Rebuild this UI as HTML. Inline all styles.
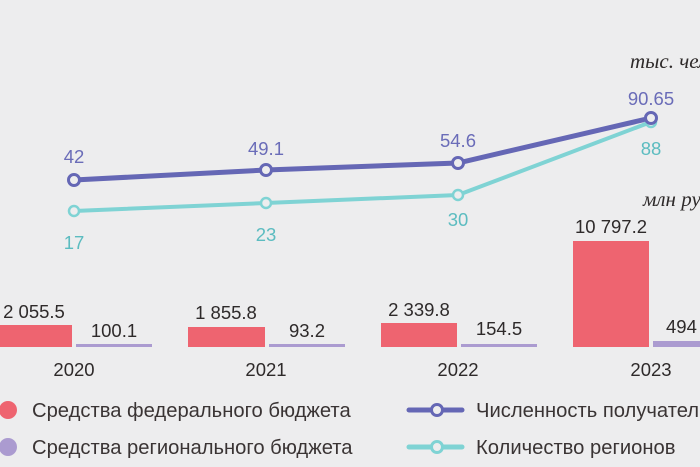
<!DOCTYPE html>
<html><head><meta charset="utf-8"><style>
html,body{margin:0;padding:0;background:#ededee;}
svg{display:block;}
text{font-family:"Liberation Sans",sans-serif;}
</style></head><body>
<svg width="700" height="467" viewBox="0 0 700 467">
<rect width="700" height="467" fill="#ededee"/>
<g fill="#ee6470">
<rect x="0" y="325" width="72" height="22"/>
<rect x="188" y="327" width="77" height="20"/>
<rect x="381" y="323" width="76" height="24"/>
<rect x="573" y="241" width="76" height="106"/>
</g>
<g fill="#ab9bd0">
<rect x="76" y="344" width="76" height="3"/>
<rect x="269" y="344" width="76" height="3"/>
<rect x="461" y="344" width="76" height="3"/>
<rect x="653" y="341" width="47" height="6"/>
</g>
<g font-size="18.5" fill="#2e2a2a" text-anchor="middle">
<text x="34" y="318">2 055.5</text>
<text x="114" y="337">100.1</text>
<text x="226" y="319">1 855.8</text>
<text x="307" y="337">93.2</text>
<text x="419" y="316">2 339.8</text>
<text x="499" y="335">154.5</text>
<text x="611" y="233">10 797.2</text>
<text x="666" y="333" text-anchor="start">494</text>
<text x="74" y="376">2020</text>
<text x="266" y="376">2021</text>
<text x="458" y="376">2022</text>
<text x="651" y="376">2023</text>
</g>
<polyline points="74,211 266,203 458,195 651,122" fill="none" stroke="#7fd3d4" stroke-width="4"/>
<polyline points="74,180 266,170 458,163 651,118" fill="none" stroke="#6567b5" stroke-width="5"/>
<g fill="#ededee" stroke="#7fd3d4" stroke-width="2.5">
<circle cx="74" cy="211" r="5"/><circle cx="266" cy="203" r="5"/><circle cx="458" cy="195" r="5"/><circle cx="651" cy="122" r="5"/>
</g>
<g fill="#ededee" stroke="#6567b5" stroke-width="3">
<circle cx="74" cy="180" r="5.5"/><circle cx="266" cy="170" r="5.5"/><circle cx="458" cy="163" r="5.5"/><circle cx="651" cy="118" r="5.5"/>
</g>
<g font-size="18.5" fill="#6a6cb8" text-anchor="middle">
<text x="74" y="163">42</text><text x="266" y="155">49.1</text><text x="458" y="147">54.6</text><text x="651" y="105">90.65</text>
</g>
<g font-size="18.5" fill="#5cbcc0" text-anchor="middle">
<text x="74" y="249">17</text><text x="266" y="241">23</text><text x="458" y="226">30</text><text x="651" y="155">88</text>
</g>
<g font-style="italic" font-size="21" fill="#2e2a2a">
<text x="630" y="68" style="font-family:'Liberation Serif',serif">тыс. чел.</text>
<text x="643" y="206" style="font-family:'Liberation Serif',serif">млн руб.</text>
</g>
<circle cx="8" cy="410" r="9" fill="#ee6470"/>
<circle cx="8" cy="447" r="9" fill="#ab9bd0"/>
<g font-size="20.2" fill="#3a3434">
<text x="32" y="417">Средства федерального бюджета</text>
<text x="32" y="454">Средства регионального бюджета</text>
<text x="476" y="417">Численность получателей</text>
<text x="476" y="454">Количество регионов</text>
</g>
<line x1="409" y1="410" x2="462" y2="410" stroke="#6567b5" stroke-width="5" stroke-linecap="round"/>
<circle cx="437" cy="410" r="5.5" fill="#ededee" stroke="#6567b5" stroke-width="3"/>
<line x1="409" y1="447" x2="462" y2="447" stroke="#7fd3d4" stroke-width="5" stroke-linecap="round"/>
<circle cx="437" cy="447" r="5.5" fill="#ededee" stroke="#7fd3d4" stroke-width="3"/>
</svg>
</body></html>
